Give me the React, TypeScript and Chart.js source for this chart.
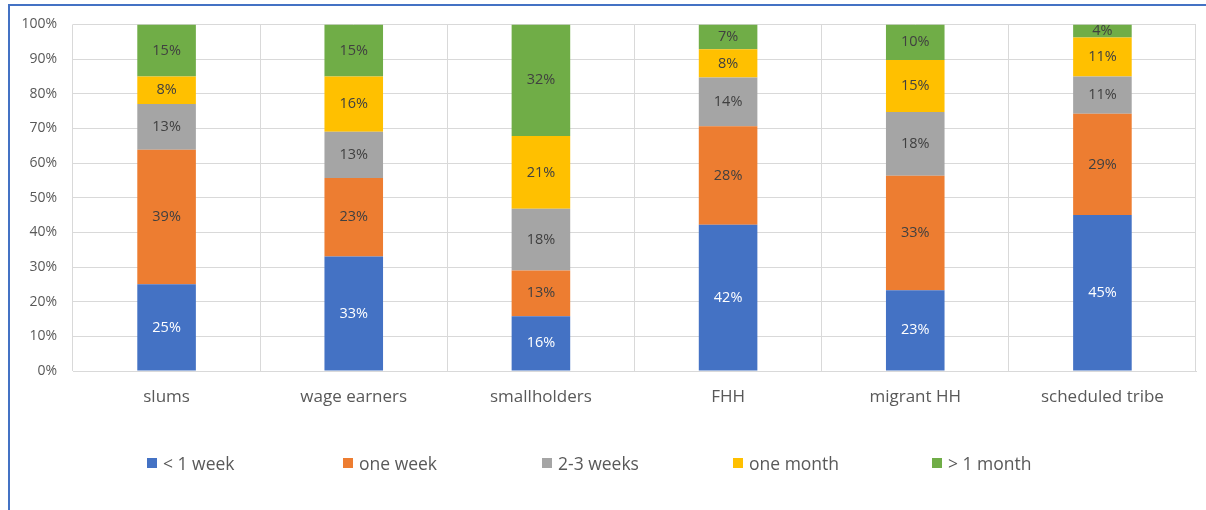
import React, { useEffect, useRef } from "react";
import { Chart, registerables } from "chart.js";

Chart.register(...registerables);

const categories = ["slums", "wage earners", "smallholders", "FHH", "migrant HH", "scheduled tribe"];
const seriesNames = ["< 1 week", "one week", "2-3 weeks", "one month", "> 1 month"];
const lessThanWeek = [25, 33, 15.8, 42.2, 23.3, 45];
const oneWeek = [38.8, 22.7, 13.2, 28.4, 33, 29.2];
const twoThreeWeeks = [13.2, 13.3, 17.8, 14.1, 18.4, 10.8];
const oneMonth = [8, 16, 21, 8.1, 15, 11.2];
const moreThanMonth = [15, 15, 32.2, 7.2, 10.3, 3.8];
const colors = ["#4472C4", "#ED7D31", "#A5A5A5", "#FFC000", "#70AD47"];
const yTicks = [0, 10, 20, 30, 40, 50, 60, 70, 80, 90, 100];

const FONT = "'Open Sans', sans-serif";

const labelPlugin = {
  id: "barLabels",
  afterDatasetsDraw(chart: any) {
    const ctx = chart.ctx;
    ctx.save();
    ctx.font = `14.5px ${FONT}`;
    ctx.textAlign = "center";
    ctx.textBaseline = "middle";
    chart.data.datasets.forEach((ds: any, di: number) => {
      const meta = chart.getDatasetMeta(di);
      meta.data.forEach((el: any, i: number) => {
        const v = ds.data[i];
        const y = (el.y + el.base) / 2;
        ctx.fillStyle = di === 0 ? "#ffffff" : "#404040";
        ctx.fillText(`${Math.round(v)}%`, el.x, y);
      });
    });
    ctx.restore();
  },
};

export default function App() {
  const ref = useRef<HTMLCanvasElement | null>(null);
  useEffect(() => {
    document.body.style.margin = "0";
    const series = [lessThanWeek, oneWeek, twoThreeWeeks, oneMonth, moreThanMonth];
    const chart = new Chart(ref.current as HTMLCanvasElement, {
      type: "bar",
      data: {
        labels: categories,
        datasets: series.map((d, i) => ({
          label: seriesNames[i],
          data: d,
          backgroundColor: colors[i],
          borderWidth: 0,
          barPercentage: 0.313,
          categoryPercentage: 1,
        })),
      },
      options: {
        animation: false,
        responsive: false,
        maintainAspectRatio: false,
        layout: { padding: { left: 0, right: 10, top: 23, bottom: 0 } },
        plugins: { legend: { display: false }, tooltip: { enabled: false } },
        scales: {
          x: {
            stacked: true,
            grid: { color: "#d9d9d9", drawTicks: false, offset: true },
            border: { color: "#d9d9d9" },
            ticks: { color: "#595959", font: { family: FONT, size: 17 }, padding: 16 },
            afterFit: (s: any) => { s.height = 139; },
          },
          y: {
            stacked: true,
            min: 0,
            max: 100,
            afterBuildTicks: (s: any) => { s.ticks = yTicks.map((v) => ({ value: v })); },
            grid: { color: "#d9d9d9", drawTicks: false },
            border: { display: false },
            ticks: {
              color: "#595959",
              font: { family: FONT, size: 14 },
              padding: 16,
              callback: (v: any) => `${v}%`,
            },
            afterFit: (s: any) => { s.width = 73; },
          },
        },
      },
      plugins: [labelPlugin],
    });
    return () => chart.destroy();
  }, []);

  const legendX = [147, 343, 542, 733, 932];
  return (
    <div style={{ position: "relative", width: 1206, height: 510, overflow: "hidden", background: "#fff" }}>
      <canvas ref={ref} width={1206} height={510} style={{ position: "absolute", left: 0, top: 0 }} />
      <div style={{ position: "absolute", left: 8, top: 4, width: 1198, height: 506, borderTop: "2px solid #4472C4", borderLeft: "2px solid #4472C4", boxSizing: "border-box" }} />
      {seriesNames.map((n, i) => (
        <div key={n} style={{ position: "absolute", left: legendX[i], top: 451, height: 24, display: "flex", alignItems: "center", fontFamily: FONT, fontSize: 17.5, color: "#595959", whiteSpace: "nowrap" }}>
          <span style={{ display: "inline-block", width: 10, height: 10, background: colors[i], marginRight: 6 }} />
          {n}
        </div>
      ))}
    </div>
  );
}
